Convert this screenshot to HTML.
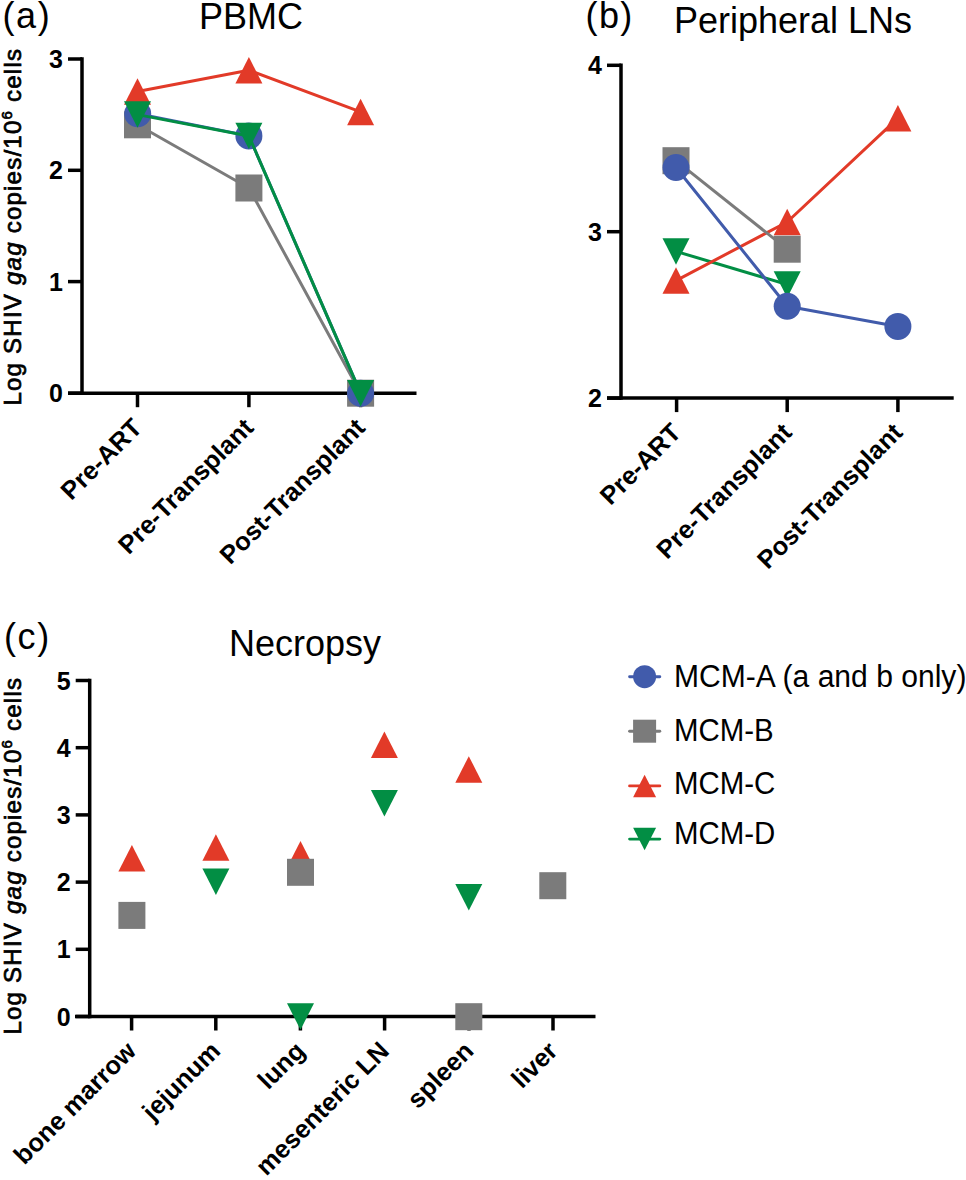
<!DOCTYPE html>
<html><head><meta charset="utf-8"><style>
html,body{margin:0;padding:0;background:#fff;width:966px;height:1180px;overflow:hidden}
svg{display:block}
text{font-family:"Liberation Sans",sans-serif;fill:#000}
.title{font-size:36px}
.tick{font-size:25px;font-weight:bold}
.xl{font-size:25.5px;font-weight:bold}
.ytitle{font-size:24px;stroke:#000;stroke-width:0.7px;letter-spacing:1.24px}
.sup{font-size:15px}
.leg{font-size:31.5px}
</style></head><body>
<svg width="966" height="1180" viewBox="0 0 966 1180">
<rect width="966" height="1180" fill="#fff"/>
<text x="2.5" y="28" class="title" letter-spacing="1.6">(a)</text>
<text x="251" y="28.5" class="title" text-anchor="middle">PBMC</text>
<line x1="82" y1="57.25" x2="82" y2="394.95" stroke="#000" stroke-width="3.5"/>
<line x1="68" y1="59" x2="82" y2="59" stroke="#000" stroke-width="3.5"/>
<text x="63" y="68" class="tick" text-anchor="end">3</text>
<line x1="68" y1="170.3" x2="82" y2="170.3" stroke="#000" stroke-width="3.5"/>
<text x="63" y="179.3" class="tick" text-anchor="end">2</text>
<line x1="68" y1="281.6" x2="82" y2="281.6" stroke="#000" stroke-width="3.5"/>
<text x="63" y="290.6" class="tick" text-anchor="end">1</text>
<line x1="68" y1="393.2" x2="82" y2="393.2" stroke="#000" stroke-width="3.5"/>
<text x="63" y="402.2" class="tick" text-anchor="end">0</text>
<line x1="68" y1="393.2" x2="416.5" y2="393.2" stroke="#000" stroke-width="3.5"/>
<line x1="137.5" y1="393.2" x2="137.5" y2="407.2" stroke="#000" stroke-width="3.5"/>
<line x1="248.9" y1="393.2" x2="248.9" y2="407.2" stroke="#000" stroke-width="3.5"/>
<line x1="360.6" y1="393.2" x2="360.6" y2="407.2" stroke="#000" stroke-width="3.5"/>
<text class="xl" text-anchor="end" transform="translate(143.50,429.20) rotate(-45)">Pre-ART</text>
<text class="xl" text-anchor="end" transform="translate(254.90,429.20) rotate(-45)">Pre-Transplant</text>
<text class="xl" text-anchor="end" transform="translate(366.60,429.20) rotate(-45)">Post-Transplant</text>
<text class="ytitle" transform="translate(21,405.6) rotate(-90)">Log SHIV <tspan font-style="italic">gag</tspan> copies/10<tspan class="sup" dy="-9">6</tspan><tspan dy="9"> cells</tspan></text>
<polyline points="137.50,124.80 248.90,188.00 360.60,393.20" fill="none" stroke="#7B7B7B" stroke-width="3.0" stroke-linejoin="round"/>
<rect x="124.00" y="111.30" width="27" height="27" fill="#7B7B7B"/>
<rect x="235.40" y="174.50" width="27" height="27" fill="#7B7B7B"/>
<rect x="347.10" y="379.70" width="27" height="27" fill="#7B7B7B"/>
<polyline points="137.70,113.80 248.90,135.90 360.60,393.20" fill="none" stroke="#415BAB" stroke-width="3.0" stroke-linejoin="round"/>
<circle cx="137.70" cy="113.80" r="13.50" fill="#415BAB"/>
<circle cx="248.90" cy="135.90" r="13.50" fill="#415BAB"/>
<circle cx="360.60" cy="393.20" r="13.50" fill="#415BAB"/>
<polyline points="137.50,91.50 248.90,70.20 360.60,111.90" fill="none" stroke="#E23A28" stroke-width="3.0" stroke-linejoin="round"/>
<polygon points="137.50,78.27 151.00,104.73 124.00,104.73" fill="#E23A28"/>
<polygon points="248.90,56.97 262.40,83.43 235.40,83.43" fill="#E23A28"/>
<polygon points="360.60,98.67 374.10,125.13 347.10,125.13" fill="#E23A28"/>
<polyline points="137.50,114.60 248.90,136.00 360.60,393.20" fill="none" stroke="#028E44" stroke-width="3.0" stroke-linejoin="round"/>
<polygon points="124.00,101.37 151.00,101.37 137.50,127.83" fill="#028E44"/>
<polygon points="235.40,122.77 262.40,122.77 248.90,149.23" fill="#028E44"/>
<polygon points="347.10,379.97 374.10,379.97 360.60,406.43" fill="#028E44"/>
<text x="585.5" y="28" class="title" letter-spacing="1.4">(b)</text>
<text x="793" y="33" class="title" text-anchor="middle">Peripheral LNs</text>
<line x1="621" y1="63.55" x2="621" y2="399.85" stroke="#000" stroke-width="3.5"/>
<line x1="607" y1="65.3" x2="621" y2="65.3" stroke="#000" stroke-width="3.5"/>
<text x="602" y="74.3" class="tick" text-anchor="end">4</text>
<line x1="607" y1="231.7" x2="621" y2="231.7" stroke="#000" stroke-width="3.5"/>
<text x="602" y="240.7" class="tick" text-anchor="end">3</text>
<line x1="607" y1="398.1" x2="621" y2="398.1" stroke="#000" stroke-width="3.5"/>
<text x="602" y="407.1" class="tick" text-anchor="end">2</text>
<line x1="607" y1="398.1" x2="953.7" y2="398.1" stroke="#000" stroke-width="3.5"/>
<line x1="676.6" y1="398.1" x2="676.6" y2="412.1" stroke="#000" stroke-width="3.5"/>
<line x1="787.2" y1="398.1" x2="787.2" y2="412.1" stroke="#000" stroke-width="3.5"/>
<line x1="897.9" y1="398.1" x2="897.9" y2="412.1" stroke="#000" stroke-width="3.5"/>
<text class="xl" text-anchor="end" transform="translate(682.60,434.10) rotate(-45)">Pre-ART</text>
<text class="xl" text-anchor="end" transform="translate(793.20,434.10) rotate(-45)">Pre-Transplant</text>
<text class="xl" text-anchor="end" transform="translate(903.90,434.10) rotate(-45)">Post-Transplant</text>
<polyline points="676.00,251.40 787.20,284.50" fill="none" stroke="#028E44" stroke-width="3.0" stroke-linejoin="round"/>
<polygon points="662.50,238.17 689.50,238.17 676.00,264.63" fill="#028E44"/>
<polygon points="773.70,271.27 800.70,271.27 787.20,297.73" fill="#028E44"/>
<polyline points="676.00,280.60 787.20,222.00 897.90,118.20" fill="none" stroke="#E23A28" stroke-width="3.0" stroke-linejoin="round"/>
<polygon points="676.00,267.37 689.50,293.83 662.50,293.83" fill="#E23A28"/>
<polygon points="787.20,208.77 800.70,235.23 773.70,235.23" fill="#E23A28"/>
<polygon points="897.90,104.97 911.40,131.43 884.40,131.43" fill="#E23A28"/>
<polyline points="676.00,160.70 787.20,249.20" fill="none" stroke="#7B7B7B" stroke-width="3.0" stroke-linejoin="round"/>
<rect x="662.50" y="147.20" width="27" height="27" fill="#7B7B7B"/>
<rect x="773.70" y="235.70" width="27" height="27" fill="#7B7B7B"/>
<polyline points="676.00,167.50 787.20,306.20 897.90,326.40" fill="none" stroke="#415BAB" stroke-width="3.0" stroke-linejoin="round"/>
<circle cx="676.00" cy="167.50" r="13.50" fill="#415BAB"/>
<circle cx="787.20" cy="306.20" r="13.50" fill="#415BAB"/>
<circle cx="897.90" cy="326.40" r="13.50" fill="#415BAB"/>
<text x="4" y="649" class="title" letter-spacing="1.6">(c)</text>
<text x="305" y="655.5" class="title" text-anchor="middle">Necropsy</text>
<line x1="89.7" y1="678.75" x2="89.7" y2="1018.25" stroke="#000" stroke-width="3.5"/>
<line x1="75.7" y1="680.5" x2="89.7" y2="680.5" stroke="#000" stroke-width="3.5"/>
<text x="70.7" y="689.5" class="tick" text-anchor="end">5</text>
<line x1="75.7" y1="747.7" x2="89.7" y2="747.7" stroke="#000" stroke-width="3.5"/>
<text x="70.7" y="756.7" class="tick" text-anchor="end">4</text>
<line x1="75.7" y1="814.9" x2="89.7" y2="814.9" stroke="#000" stroke-width="3.5"/>
<text x="70.7" y="823.9" class="tick" text-anchor="end">3</text>
<line x1="75.7" y1="882.1" x2="89.7" y2="882.1" stroke="#000" stroke-width="3.5"/>
<text x="70.7" y="891.1" class="tick" text-anchor="end">2</text>
<line x1="75.7" y1="949.3" x2="89.7" y2="949.3" stroke="#000" stroke-width="3.5"/>
<text x="70.7" y="958.3" class="tick" text-anchor="end">1</text>
<line x1="75.7" y1="1016.5" x2="89.7" y2="1016.5" stroke="#000" stroke-width="3.5"/>
<text x="70.7" y="1025.5" class="tick" text-anchor="end">0</text>
<line x1="75" y1="1016.5" x2="595.5" y2="1016.5" stroke="#000" stroke-width="3.5"/>
<line x1="131.6" y1="1016.5" x2="131.6" y2="1030.5" stroke="#000" stroke-width="3.5"/>
<line x1="215.8" y1="1016.5" x2="215.8" y2="1030.5" stroke="#000" stroke-width="3.5"/>
<line x1="300.4" y1="1016.5" x2="300.4" y2="1030.5" stroke="#000" stroke-width="3.5"/>
<line x1="384.6" y1="1016.5" x2="384.6" y2="1030.5" stroke="#000" stroke-width="3.5"/>
<line x1="469" y1="1016.5" x2="469" y2="1030.5" stroke="#000" stroke-width="3.5"/>
<line x1="553" y1="1016.5" x2="553" y2="1030.5" stroke="#000" stroke-width="3.5"/>
<text class="xl" text-anchor="end" transform="translate(137.60,1052.50) rotate(-45)">bone marrow</text>
<text class="xl" text-anchor="end" transform="translate(221.80,1052.50) rotate(-45)">jejunum</text>
<text class="xl" text-anchor="end" transform="translate(306.40,1052.50) rotate(-45)">lung</text>
<text class="xl" text-anchor="end" transform="translate(390.60,1052.50) rotate(-45)">mesenteric LN</text>
<text class="xl" text-anchor="end" transform="translate(475.00,1052.50) rotate(-45)">spleen</text>
<text class="xl" text-anchor="end" transform="translate(559.00,1052.50) rotate(-45)">liver</text>
<text class="ytitle" transform="translate(21,1034.6) rotate(-90)">Log SHIV <tspan font-style="italic">gag</tspan> copies/10<tspan class="sup" dy="-9">6</tspan><tspan dy="9"> cells</tspan></text>
<polygon points="131.90,845.07 145.40,871.53 118.40,871.53" fill="#E23A28"/>
<polygon points="215.90,834.17 229.40,860.63 202.40,860.63" fill="#E23A28"/>
<polygon points="300.50,840.97 314.00,867.43 287.00,867.43" fill="#E23A28"/>
<polygon points="384.40,731.47 397.90,757.93 370.90,757.93" fill="#E23A28"/>
<polygon points="468.80,756.17 482.30,782.63 455.30,782.63" fill="#E23A28"/>
<polygon points="202.40,868.47 229.40,868.47 215.90,894.93" fill="#028E44"/>
<polygon points="287.00,1003.27 314.00,1003.27 300.50,1029.73" fill="#028E44"/>
<polygon points="370.90,789.97 397.90,789.97 384.40,816.43" fill="#028E44"/>
<polygon points="455.30,883.97 482.30,883.97 468.80,910.43" fill="#028E44"/>
<rect x="118.40" y="901.90" width="27" height="27" fill="#7B7B7B"/>
<rect x="287.00" y="858.80" width="27" height="27" fill="#7B7B7B"/>
<rect x="455.30" y="1003.20" width="27" height="27" fill="#7B7B7B"/>
<rect x="539.30" y="872.20" width="27" height="27" fill="#7B7B7B"/>
<line x1="629.6" y1="676.7" x2="659.8" y2="676.7" stroke="#415BAB" stroke-width="2.9" stroke-linecap="round"/>
<circle cx="644.60" cy="676.70" r="11.50" fill="#415BAB"/>
<text transform="translate(674,687.1) scale(0.955,1)" class="leg">MCM-A (a and b only)</text>
<line x1="629.6" y1="731.2" x2="659.8" y2="731.2" stroke="#7B7B7B" stroke-width="2.9" stroke-linecap="round"/>
<rect x="633.10" y="719.70" width="23" height="23" fill="#7B7B7B"/>
<text transform="translate(674,741.2) scale(0.935,1)" class="leg">MCM-B</text>
<line x1="629.6" y1="785.9" x2="659.8" y2="785.9" stroke="#E23A28" stroke-width="2.9" stroke-linecap="round"/>
<polygon points="644.60,774.63 656.10,797.17 633.10,797.17" fill="#E23A28"/>
<text transform="translate(674,794.3) scale(0.935,1)" class="leg">MCM-C</text>
<line x1="629.6" y1="839.1" x2="659.8" y2="839.1" stroke="#028E44" stroke-width="2.9" stroke-linecap="round"/>
<polygon points="633.10,827.83 656.10,827.83 644.60,850.37" fill="#028E44"/>
<text transform="translate(674,843.9) scale(0.935,1)" class="leg">MCM-D</text>
</svg>
</body></html>
